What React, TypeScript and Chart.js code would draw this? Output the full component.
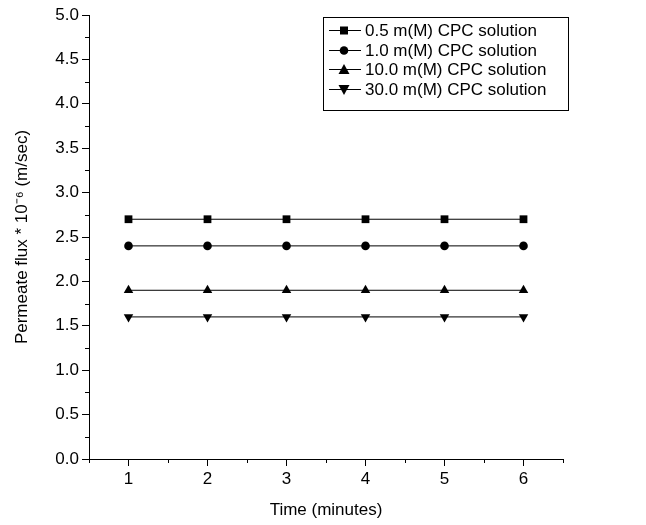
import React, { useEffect, useRef } from "react";
import { Chart, registerables } from "chart.js";
Chart.register(...registerables);

const times = [1, 2, 3, 4, 5, 6];
const s05 = [2.7, 2.7, 2.7, 2.7, 2.7, 2.7];
const s10 = [2.4, 2.4, 2.4, 2.4, 2.4, 2.4];
const s100 = [1.9, 1.9, 1.9, 1.9, 1.9, 1.9];
const s300 = [1.6, 1.6, 1.6, 1.6, 1.6, 1.6];
const labels = ["0.5 m(M) CPC solution", "1.0 m(M) CPC solution", "10.0 m(M) CPC solution", "30.0 m(M) CPC solution"];
const styles: any[] = ["rect", "circle", "triangle", "triangle"];
const rots = [0, 0, 0, 180];
const radii = [5.5, 4.3, 5.5, 5.5];
const FONT = "'Liberation Sans', Arial, sans-serif";

export default function App() {
  const ref = useRef<HTMLCanvasElement>(null);
  useEffect(() => {
    document.body.style.margin = "0";
    const series = [s05, s10, s100, s300];
    function drawPoint(ctx: any, st: string, rot: number, px: number, py: number) {
      ctx.beginPath();
      if (st === "rect") ctx.rect(px - 4, py - 4, 8, 8);
      else if (st === "circle") ctx.arc(px, py, 4.3, 0, Math.PI * 2);
      else if (rot === 0) { ctx.moveTo(px, py - 5.5); ctx.lineTo(px + 5.5, py + 4.5); ctx.lineTo(px - 5.5, py + 4.5); ctx.closePath(); }
      else { ctx.moveTo(px, py + 5.5); ctx.lineTo(px + 5.5, py - 4.5); ctx.lineTo(px - 5.5, py - 4.5); ctx.closePath(); }
      ctx.fill();
    }
    const minor = {
      id: "minor",
      afterDraw(c: any) {
        const ctx = c.ctx;
        const x = c.scales.x, y = c.scales.y;
        ctx.save();
        ctx.strokeStyle = "#000";
        ctx.lineWidth = 1;
        ctx.beginPath();
        for (let v = 0.25; v < 5; v += 0.5) {
          const py = Math.round(y.getPixelForValue(v)) + 0.5;
          ctx.moveTo(x.left, py); ctx.lineTo(x.left - 4, py);
        }
        for (let v = 0.5; v <= 6.5; v += 1) {
          const px = Math.round(x.getPixelForValue(v)) + 0.5;
          ctx.moveTo(px, y.bottom); ctx.lineTo(px, y.bottom + 4);
        }
        ctx.stroke();
        const lx = 323, ly = 17, lw = 245, lh = 93;
        ctx.fillStyle = "#fff";
        ctx.fillRect(lx, ly, lw, lh);
        ctx.strokeRect(lx + 0.5, ly + 0.5, lw, lh);
        ctx.font = "17px " + FONT;
        ctx.fillStyle = "#000";
        ctx.textBaseline = "middle";
        for (let i = 0; i < 4; i++) {
          const cy = Math.round(ly + 13 + i * 19.6) + 0.5;
          ctx.beginPath();
          ctx.moveTo(lx + 6, cy); ctx.lineTo(lx + 38, cy); ctx.stroke();
          drawPoint(ctx, styles[i], rots[i], lx + 21, cy);
          ctx.fillText(labels[i], lx + 42, cy + 1);
        }
        ctx.restore();
      },
    };
    const chart = new Chart(ref.current!, {
      type: "line",
      data: {
        datasets: series.map((s, i) => ({
          label: labels[i],
          data: s.map((v, j) => ({ x: times[j], y: v })),
          borderColor: "#000",
          backgroundColor: "#000",
          borderWidth: 1,
          pointStyle: styles[i],
          rotation: rots[i],
          pointRadius: radii[i],
          pointBorderWidth: 0,
        })),
      },
      options: {
        animation: false,
        responsive: false,
        layout: { padding: { top: 15, right: 83, left: 8, bottom: 0 } },
        plugins: { legend: { display: false }, tooltip: { enabled: false } },
        scales: {
          x: {
            type: "linear", min: 0.5, max: 6.5,
            afterBuildTicks: (s: any) => { s.ticks = times.map((v) => ({ value: v })); },
            afterFit: (s: any) => { s.height = 66; },
            grid: { drawOnChartArea: false, color: "#000", tickLength: 7 },
            border: { color: "#000", width: 1 },
            ticks: { color: "#000", font: { family: FONT, size: 17 }, padding: 3 },
            title: { display: true, text: "Time (minutes)", color: "#000", font: { family: FONT, size: 17 }, padding: { top: 4 } },
          },
          y: {
            min: 0, max: 5,
            afterFit: (s: any) => { s.width = 81; },
            grid: { drawOnChartArea: false, color: "#000", tickLength: 7 },
            border: { color: "#000", width: 1 },
            ticks: { stepSize: 0.5, color: "#000", font: { family: FONT, size: 17 }, callback: (v: any) => Number(v).toFixed(1), padding: 3 },
            title: { display: true, text: "Permeate flux * 10⁻⁶ (m/sec)", color: "#000", font: { family: FONT, size: 17 }, padding: { bottom: 2 } },
          },
        },
      },
      plugins: [minor],
    } as any);
    return () => chart.destroy();
  }, []);
  return <canvas ref={ref} width={646} height={525} style={{ display: "block" }} />;
}
